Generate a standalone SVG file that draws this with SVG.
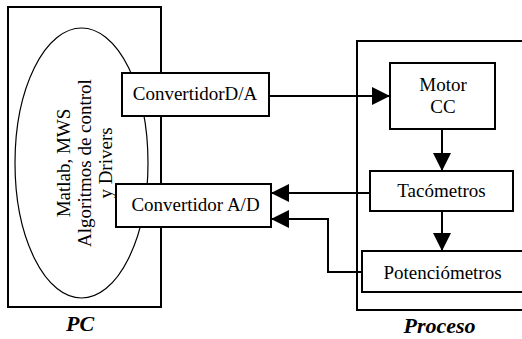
<svg xmlns="http://www.w3.org/2000/svg" width="522" height="339" viewBox="0 0 522 339">
<style>
.box{fill:#fff;stroke:#000;stroke-width:2}
.frame{fill:none;stroke:#000;stroke-width:2}
.t{font-family:"Liberation Serif","Times New Roman",serif;font-size:19px;fill:#000;text-anchor:middle}
.lbl{font-family:"Liberation Serif","Times New Roman",serif;font-size:22px;font-weight:bold;font-style:italic;fill:#000;text-anchor:middle}
.c{fill:none;stroke:#000;stroke-width:2;marker-end:url(#ah)}
</style>
<defs>
<marker id="ah" markerUnits="userSpaceOnUse" markerWidth="18" markerHeight="18" refX="18" refY="9" orient="auto" viewBox="0 0 18 18">
<path d="M0,0 L18,9 L0,18 z" fill="#000"/>
</marker>
</defs>
<g id="pc">
<rect class="frame" x="8" y="7" width="153" height="300"/>
<text class="lbl" x="80" y="331">PC</text>
</g>
<g id="software">
<ellipse cx="81.5" cy="163" rx="66.5" ry="135" fill="#fff" stroke="#000" stroke-width="1.2"/>
<g transform="translate(70,163) rotate(-90)"><text class="t" x="0" y="0">Matlab, MWS</text></g>
<g transform="translate(91,163) rotate(-90)"><text class="t" x="0" y="0">Algoritmos de control</text></g>
<g transform="translate(112,163) rotate(-90)"><text class="t" x="0" y="0">y Drivers</text></g>
</g>
<g id="proceso">
<rect class="frame" x="357" y="41" width="190" height="269"/>
<text class="lbl" x="439.5" y="333">Proceso</text>
</g>
<g id="da">
<rect class="box" x="122" y="73" width="147" height="43"/>
<text class="t" x="195" y="100">ConvertidorD/A</text>
</g>
<g id="ad">
<rect class="box" x="116" y="184" width="155" height="43"/>
<text class="t" x="195.5" y="211">Convertidor A/D</text>
</g>
<g id="motor">
<rect class="box" x="390" y="63" width="105" height="66"/>
<text class="t" x="443" y="91">Motor</text>
<text class="t" x="443" y="113">CC</text>
</g>
<g id="tacometros">
<rect class="box" x="370" y="171" width="143" height="40"/>
<text class="t" x="441.5" y="197">Tacómetros</text>
</g>
<g id="potenciometros">
<rect class="box" x="362" y="251" width="180" height="41"/>
<text class="t" x="442.5" y="279">Potenciómetros</text>
</g>
<g id="connectors">
<path class="c" d="M269,96 H390"/>
<path class="c" d="M442,129 V171"/>
<path class="c" d="M442,211 V251"/>
<path class="c" d="M370,193 H271"/>
<path class="c" d="M362,272 H328 V219 H271"/>
</g>
</svg>
